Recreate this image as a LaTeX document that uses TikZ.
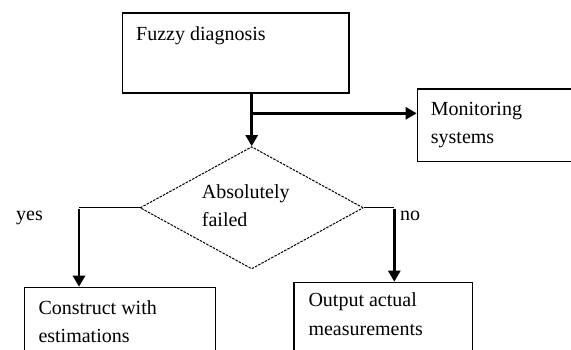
\documentclass[tikz,border=0pt]{standalone}
\usepackage{fontspec}
\setmainfont{Liberation Serif}
\usetikzlibrary{arrows.meta, shapes.geometric}

\begin{document}
\begin{tikzpicture} [x = 1pt, y = -1pt,
  box/.style = {draw, line width = 1.2pt, inner sep = 0pt, anchor = north west},
  txt/.style = {font = \fontsize{20}{28.3}\selectfont, inner sep = 0pt, align = left, anchor = base west},
  flow/.style = {line width = 2.6pt, -{Triangle[length = 11pt, width = 12pt]}},
  stub/.style = {line width = 1.2pt}]
\useasboundingbox (0,0) rectangle (571,349);
\clip (0,0) rectangle (571,349);
% boxes
\node[box, minimum width = 226.6pt, minimum height = 80pt] (fuzzy) at (121.7,12.3) {};
\node[box, minimum width = 180pt, minimum height = 72.4pt] (mon) at (416.7,88.3) {};
\node[draw, diamond, dash pattern = on 2.5pt off 1.2pt, line width = 1pt, inner sep = 0pt, aspect = 1.8, minimum width = 223.3pt, minimum height = 122.3pt] (dec) at (251.7,207.8) {};
\node[box, minimum width = 191pt, minimum height = 90pt] (con) at (24,286.7) {};
\node[box, minimum width = 178.4pt, minimum height = 90pt] (out) at (293.3,281.7) {};
% texts (base = last line)
\node[txt] (fuzzytxt) at (136,40.7) {Fuzzy diagnosis};
\node[txt] (montxt) at (430.7,143.3) {Monitoring\\systems};
\node[txt] (dectxt) at (201.7,226.7) {Absolutely\\failed};
\node[txt] (contxt) at (38.3,342.7) {Construct with\\estimations};
\node[txt] (outtxt) at (308.3,335) {Output actual\\measurements};
\node[txt] (yes) at (16,220.7) {yes};
\node[txt] (no) at (400,220) {no};
% connectors
\coordinate (split) at (dec.north |- 0,113.3);
\coordinate (yesturn) at (79,0 |- dec.west);
\coordinate (noturn) at (394.3,0 |- dec.east);
\draw [flow] (dec.north |- fuzzy.south) -- (dec.north);
\draw [flow] (split) -- (split -| mon.west);
\draw [stub] (dec.west) -- (yesturn);
\draw [flow] ([yshift = -0.7pt]yesturn) -- (yesturn |- con.north);
\draw [stub] (dec.east) -- (noturn);
\draw [flow] ([yshift = -0.7pt]noturn) -- (noturn |- out.north);
\end{tikzpicture}
\end{document}
